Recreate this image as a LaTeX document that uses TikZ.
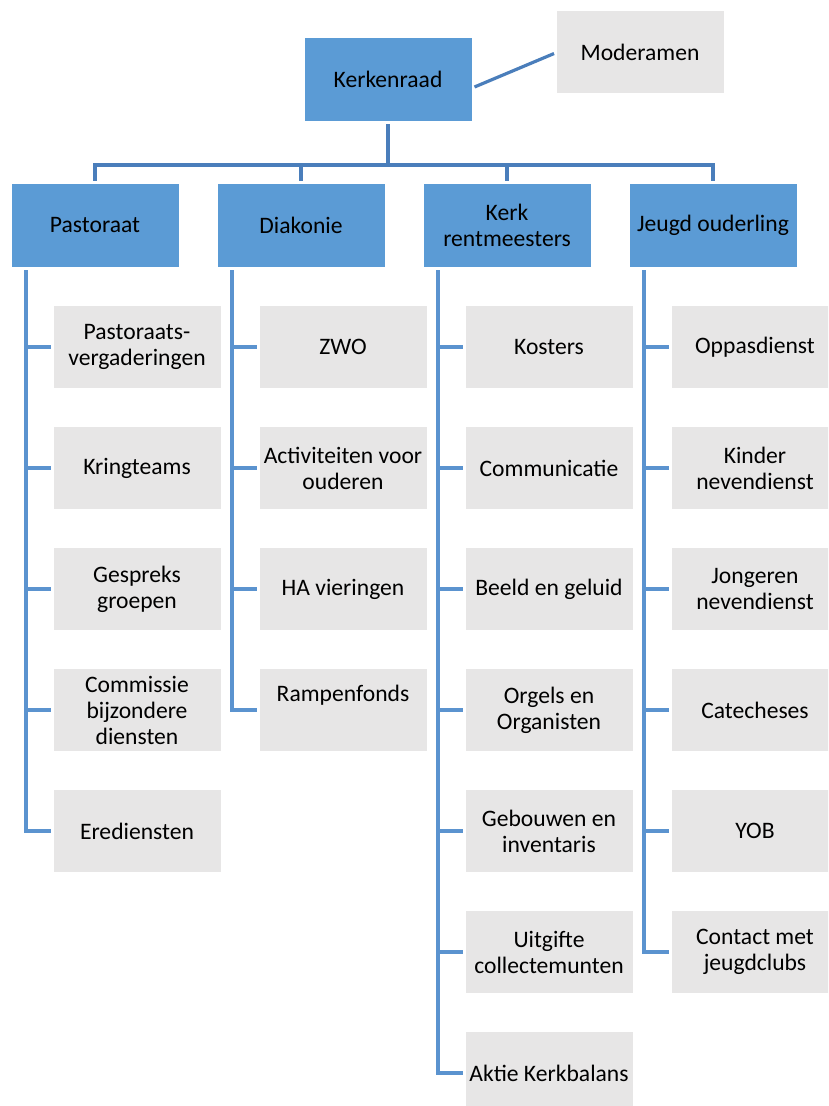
\documentclass[tikz,border=0pt]{standalone}
\usepackage{fontspec}
\setmainfont{Carlito}
\usepackage{tikz}
\usetikzlibrary{positioning, calc}
\definecolor{headblue}{HTML}{5B9BD5}
\definecolor{subgray}{HTML}{E7E6E6}
\definecolor{topline}{HTML}{4A7EBB}
\definecolor{subline}{HTML}{5B93CF}
\tikzset{
    box/.style={rectangle, inner sep=1pt, outer sep=0pt, align=center,
      minimum width=125.25pt,
      font=\fontsize{17.7}{19.5}\selectfont},
    head/.style={box, fill=headblue, minimum height=62.25pt},
    sub/.style={box, fill=subgray, minimum height=61.5pt},
    conn/.style={draw=topline, line width=2.4pt, shorten >=2pt},
    subconn/.style={conn, draw=subline},
}

\begin{document}
\begin{tikzpicture}[x=0.75pt, y=-0.75pt, node distance=29.25pt]
    \useasboundingbox (0,0) rectangle (828,1106);
    \clip (0,0) rectangle (828,1106);

    \node[head] (kr) at (388,79.5) {Kerkenraad};
    \node[sub] (mod) at (640,52.5) {Moderamen};

    \draw[conn] ($(kr.east)+(3,7.5)$) -- (mod.west);

    \node[head] (pa) at (95,225.5) {Pastoraat};
    \node[head, right=of pa] (di) {Diakonie};
    \node[head, right=of di] (ke) {Kerk\\rentmeesters};
    \node[head, right=of ke] (jo) {Jeugd ouderling};

    \coordinate (bar) at (388,165);
    \draw[conn] (bar) -- (kr.south);
    \draw[conn] (bar) -| (pa.north);
    \draw[conn] (bar) -| (jo.north);
    \draw[conn] (bar -| di.north) -- (di.north);
    \draw[conn] (bar -| ke.north) -- (ke.north);

    % Pastoraat
    \node[sub] (pa1) at (137,347) {Pastoraats-\\vergaderingen};
    \node[sub, below=of pa1] (pa2) {Kringteams};
    \node[sub, below=of pa2] (pa3) {Gespreks\\groepen};
    \node[sub, below=of pa3] (pa4) {Commissie\\bijzondere\\diensten};
    \node[sub, below=of pa4] (pa5) {Erediensten};

    \coordinate (pav) at ($(pa.south west)+(14.5,3)$);
    \draw[subconn] (pav) |- (pa5.west);
    \draw[subconn] (pav |- pa1.west) -- (pa1.west);
    \draw[subconn] (pav |- pa2.west) -- (pa2.west);
    \draw[subconn] (pav |- pa3.west) -- (pa3.west);
    \draw[subconn] (pav |- pa4.west) -- (pa4.west);

    % Diakonie
    \node[sub, right=of pa1] (di1) {ZWO};
    \node[sub, below=of di1] (di2) {Activiteiten voor\\ouderen};
    \node[sub, below=of di2] (di3) {HA vieringen};
    \node[sub, below=of di3] (di4) {Rampenfonds\\[5pt]\mbox{}};

    \coordinate (div) at ($(di.south west)+(14.5,3)$);
    \draw[subconn] (div) |- (di4.west);
    \draw[subconn] (div |- di1.west) -- (di1.west);
    \draw[subconn] (div |- di2.west) -- (di2.west);
    \draw[subconn] (div |- di3.west) -- (di3.west);

    % Kerk rentmeesters
    \node[sub, right=of di1] (ke1) {Kosters};
    \node[sub, below=of ke1] (ke2) {Communicatie};
    \node[sub, below=of ke2] (ke3) {Beeld en geluid};
    \node[sub, below=of ke3] (ke4) {Orgels en\\Organisten};
    \node[sub, below=of ke4] (ke5) {Gebouwen en\\inventaris};
    \node[sub, below=of ke5] (ke6) {Uitgifte\\collectemunten};
    \node[sub, below=of ke6] (ke7) {Aktie Kerkbalans};

    \coordinate (kev) at ($(ke.south west)+(14.5,3)$);
    \draw[subconn] (kev) |- (ke7.west);
    \draw[subconn] (kev |- ke1.west) -- (ke1.west);
    \draw[subconn] (kev |- ke2.west) -- (ke2.west);
    \draw[subconn] (kev |- ke3.west) -- (ke3.west);
    \draw[subconn] (kev |- ke4.west) -- (ke4.west);
    \draw[subconn] (kev |- ke5.west) -- (ke5.west);
    \draw[subconn] (kev |- ke6.west) -- (ke6.west);

    % Jeugd ouderling
    \node[sub, right=of ke1] (jo1) {Oppasdienst};
    \node[sub, below=of jo1] (jo2) {Kinder\\nevendienst};
    \node[sub, below=of jo2] (jo3) {Jongeren\\nevendienst};
    \node[sub, below=of jo3] (jo4) {Catecheses};
    \node[sub, below=of jo4] (jo5) {YOB};
    \node[sub, below=of jo5] (jo6) {Contact met\\jeugdclubs};

    \coordinate (jov) at ($(jo.south west)+(14.5,3)$);
    \draw[subconn] (jov) |- (jo6.west);
    \draw[subconn] (jov |- jo1.west) -- (jo1.west);
    \draw[subconn] (jov |- jo2.west) -- (jo2.west);
    \draw[subconn] (jov |- jo3.west) -- (jo3.west);
    \draw[subconn] (jov |- jo4.west) -- (jo4.west);
    \draw[subconn] (jov |- jo5.west) -- (jo5.west);
\end{tikzpicture}
\end{document}
